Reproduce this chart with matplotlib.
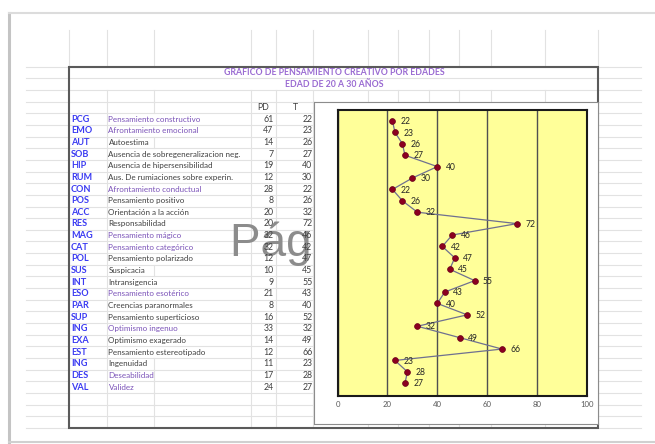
import matplotlib
matplotlib.use("Agg")
import matplotlib.pyplot as plt
from matplotlib.patches import Rectangle

plt.rcParams['font.family'] = ['Lato', 'DejaVu Sans']

# --- data (read from the sheet) ---
codes = ["PCG", "EMO", "AUT", "SOB", "HIP", "RUM", "CON", "POS", "ACC", "RES", "MAG", "CAT",
         "POL", "SUS", "INT", "ESO", "PAR", "SUP", "ING", "EXA", "EST", "ING", "DES", "VAL"]
descs = ["Pensamiento constructivo", "Afrontamiento emocional", "Autoestima",
         "Ausencia de sobregeneralizacion neg.", "Ausencia de hipersensibilidad",
         "Aus. De rumiaciones sobre experin.", "Afrontamiento conductual", "Pensamiento positivo",
         "Orientación a la acción", "Responsabilidad", "Pensamiento mágico", "Pensamiento categórico",
         "Pensamiento polarizado", "Suspicacia", "Intransigencia", "Pensamiento esotérico",
         "Creencias paranormales", "Pensamiento superticioso", "Optimismo ingenuo",
         "Optimismo exagerado", "Pensamiento estereotipado", "Ingenuidad", "Deseabilidad", "Validez"]
purple_rows = [0, 1, 6, 10, 11, 15, 18, 22, 23]
pd_vals = [61, 47, 14, 7, 19, 12, 28, 8, 20, 20, 32, 32, 12, 10, 9, 21, 8, 16, 33, 14, 12, 11, 17, 24]
t_vals = [22, 23, 26, 27, 40, 30, 22, 26, 32, 72, 46, 42, 47, 45, 55, 43, 40, 52, 32, 49, 66, 23, 28, 27]
title1 = "GRAFICO DE PENSAMIENTO CREATIVO POR EDADES"
title2 = "EDAD DE 20 A 30 AÑOS"

W, H = 655, 444
fig = plt.figure(figsize=(W / 100, H / 100), dpi=100)
fig.patch.set_facecolor("white")

# sheet background in pixel coords
bg = fig.add_axes([0, 0, 1, 1])
bg.set_xlim(0, W)
bg.set_ylim(H, 0)
bg.axis("off")

grid_c = "#e2e2e2"
row0, rh = 66.7, 11.65
cols = [68.7, 106.7, 154, 250.5, 275.7, 313, 367.6, 398, 429, 459, 491, 545, 597.7]

# page shadow
bg.plot([9, 9], [13, 442], color="#c4c4c4", lw=2.2)
bg.plot([9, W], [13, 13], color="#dcdcdc", lw=1.5)
bg.plot([9, W], [442, 442], color="#d0d0d0", lw=1.5)

# horizontal gridlines
for k in range(32):
    y = row0 + k * rh
    bg.plot([26, 641], [y, y], color=grid_c, lw=0.8, zorder=1)
# vertical gridlines above the block
for x in cols:
    bg.plot([x, x], [30, row0], color=grid_c, lw=0.8, zorder=1)
# vertical gridlines inside the block
for x in [106.7, 250.5, 275.7] + cols[5:-1]:
    bg.plot([x, x], [row0 + 2 * rh, row0 + 31 * rh], color=grid_c, lw=0.8, zorder=1)
for k in list(range(2, 4)) + list(range(28, 31)):
    bg.plot([154, 154], [row0 + k * rh, row0 + (k + 1) * rh], color=grid_c, lw=0.8, zorder=1)
for i, d in enumerate(descs):
    if len(d) <= 12:
        k = i + 4
        bg.plot([154, 154], [row0 + k * rh, row0 + (k + 1) * rh], color=grid_c, lw=0.8, zorder=1)

# block border
bg.add_patch(Rectangle((68.7, row0), 597.7 - 68.7, 31 * rh, fill=False,
                       edgecolor="#5a5a5a", lw=1.5, zorder=3))

# page watermark (under the cell text and under the chart)
bg.text(230, 256, "Página 1", color="#8c8c8c", fontsize=33, family="Liberation Sans",
        ha="left", va="baseline", zorder=2)

# titles
bg.text(334, row0 + 0.5 * rh, title1, color="#9a6bd2", fontsize=6.3, fontweight="bold",
        ha="center", va="center", zorder=4)
bg.text(334, row0 + 1.5 * rh, title2, color="#9a6bd2", fontsize=6.3, fontweight="bold",
        ha="center", va="center", zorder=4)
bg.text(262.7, row0 + 3.5 * rh, "PD", color="#404040", fontsize=6.3, ha="center", va="center", zorder=4)
bg.text(295, row0 + 3.5 * rh, "T", color="#404040", fontsize=6.3, ha="center", va="center", zorder=4)

for i in range(len(codes)):
    y = row0 + (i + 4.5) * rh
    bg.text(71, y, codes[i], color="#3b3bf2", fontsize=6.6, fontweight="bold",
            ha="left", va="center", zorder=4)
    dc = "#7a52b8" if i in purple_rows else "#3f3f3f"
    bg.text(108.5, y, descs[i], color=dc, fontsize=5.8, ha="left", va="center", zorder=4)
    bg.text(273.3, y, str(pd_vals[i]), color="#3f3f3f", fontsize=6.3, ha="right", va="center", zorder=4)
    bg.text(312.3, y, str(t_vals[i]), color="#3f3f3f", fontsize=6.3, ha="right", va="center", zorder=4)

# chart object box
box = fig.add_axes([314 / W, 1 - 424 / H, (597.7 - 314) / W, (424 - 101.7) / H])
box.set_xticks([])
box.set_yticks([])
box.set_facecolor("white")
for s in box.spines.values():
    s.set_color("#8c8c8c")
    s.set_linewidth(0.8)

# plot area
ax = fig.add_axes([337.7 / W, 1 - 395.7 / H, 249 / W, 286 / H])
ax.set_facecolor("#ffff99")
idx = list(range(len(t_vals)))
ax.plot(t_vals, idx, color="#6f7090", lw=0.9, zorder=3)
ax.plot(t_vals, idx, linestyle="none", marker="o", markersize=4.2,
        markerfacecolor="#8b0020", markeredgecolor="#6a0018", markeredgewidth=0.5, zorder=4)
for v, i in zip(t_vals, idx):
    ax.annotate(str(v), (v, i), xytext=(6, -0.5), textcoords="offset points",
                fontsize=6.2, color="#262626", ha="left", va="center", zorder=5)
ax.set_xlim(0, 100)
ax.set_ylim(23 + 1.09, -0.99)
ax.set_xticks([0, 20, 40, 60, 80, 100])
ax.set_yticks([])
ax.xaxis.grid(True, color="#505050", lw=1.0)
ax.set_axisbelow(True)
ax.tick_params(axis="x", length=0, pad=4, labelsize=5.6, labelcolor="#595959")
for s in ax.spines.values():
    s.set_color("#1a1a1a")
    s.set_linewidth(1.5)

fig.savefig("out.png", dpi=100)
